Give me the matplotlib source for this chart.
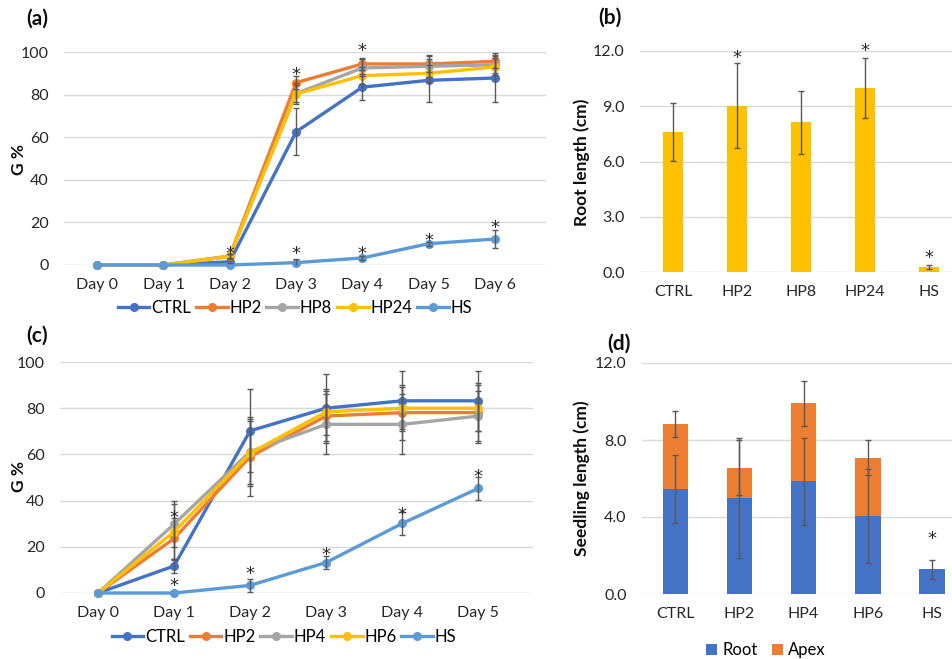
import numpy as np
import matplotlib
matplotlib.use("Agg")
import matplotlib.pyplot as plt

plt.rcParams['font.family'] = ['Lato', 'DejaVu Sans']

W, H = 953, 659

# colours (Office palette)
BLUE = "#4472C4"
ORANGE = "#ED7D31"
GRAY = "#A5A5A5"
YELLOW = "#FFC000"
LBLUE = "#5B9BD5"
ERR = "#595959"
GRID = "#D9D9D9"

# ---- (a) germination, 7 days ----
days_a = ["Day 0", "Day 1", "Day 2", "Day 3", "Day 4", "Day 5", "Day 6"]
names_a = ["CTRL", "HP2", "HP8", "HP24", "HS"]
ctrl_a = [0, 0, 1.5, 62.5, 83.5, 86.7, 87.8]
hp2_a = [0, 0, 4.2, 85.6, 94.4, 94.4, 95.6]
hp8_a = [0, 0, 4.0, 80.5, 92.5, 93.3, 94.0]
hp24_a = [0, 0, 4.0, 80.3, 88.9, 90.0, 93.0]
hs_a = [0, 0, 0, 1.1, 3.3, 10.0, 12.2]
ctrl_a_err = [0, 0, 0.5, 11, 6, 10, 11.5]
hp2_a_err = [0, 0, 1, 3, 3, 4, 3]
hp8_a_err = [0, 0, 1, 5, 4, 5, 4]
hp24_a_err = [0, 0, 1, 4, 4, 4, 4]
hs_a_err = [0, 0, 0, 1.5, 1, 1, 4]
stars_a_x = [2, 3, 3, 4, 4, 5, 6]
stars_a_y = [8, 92, 8, 103, 8, 14, 20]

# ---- (b) root length ----
groups_b = ["CTRL", "HP2", "HP8", "HP24", "HS"]
root_b = [7.6, 9.03, 8.12, 9.97, 0.27]
root_b_err = [1.55, 2.3, 1.7, 1.63, 0.13]
stars_b_x = [1, 3, 4]
stars_b_y = [11.9, 12.3, 1.05]

# ---- (c) germination, 6 days ----
days_c = ["Day 0", "Day 1", "Day 2", "Day 3", "Day 4", "Day 5"]
names_c = ["CTRL", "HP2", "HP4", "HP6", "HS"]
ctrl_c = [0, 11.7, 70.2, 80.0, 83.2, 83.2]
hp2_c = [0, 23.6, 59.0, 76.6, 78.1, 78.1]
hp4_c = [0, 29.8, 61.2, 73.0, 73.0, 76.6]
hp6_c = [0, 26.5, 60.5, 78.4, 80.0, 80.0]
hs_c = [0, 0, 3.3, 13.2, 30.1, 45.3]
ctrl_c_err = [0, 3, 18, 15, 13, 13]
hp2_c_err = [0, 9, 17, 11, 12, 13]
hp4_c_err = [0, 10, 14, 13, 13, 11]
hp6_c_err = [0, 12, 14, 10, 9, 10]
hs_c_err = [0, 0, 2.8, 3, 5, 5]
stars_c_x = [1, 1, 2, 3, 4, 5]
stars_c_y = [35, 5.5, 10.5, 19, 36, 52.5]

# ---- (d) seedling length ----
groups_d = ["CTRL", "HP2", "HP4", "HP6", "HS"]
root_d = [5.44, 4.98, 5.86, 4.06, 1.28]
apex_d = [3.39, 1.59, 4.04, 3.03, 0.0]
root_d_err = [1.76, 3.1, 2.25, 2.43, 0.48]
apex_d_err = [0.67, 1.45, 1.15, 0.93, 0.0]
stars_d_x = [4]
stars_d_y = [3.15]


def rect(l, t, r, b):
    return [l / W, 1 - b / H, (r - l) / W, (b - t) / H]


def style(ax, yticks, fmt):
    for s in ax.spines.values():
        s.set_visible(False)
    ax.set_yticks(yticks)
    ax.set_yticklabels([fmt.format(v) for v in yticks])
    ax.yaxis.grid(True, color=GRID, lw=1)
    ax.set_axisbelow(True)
    ax.tick_params(length=0, labelsize=11.5, labelcolor="#262626")
    ax.tick_params(axis="y", pad=11)
    ax.tick_params(axis="x", pad=9)


def lines(ax, days, series, errs, colors, names):
    x = np.arange(len(days))
    handles = []
    for y, e, c, n in zip(series, errs, colors, names):
        h, = ax.plot(x, y, "-o", color=c, lw=2.4, ms=5.5, label=n,
                     zorder=2, clip_on=False)
        handles.append(h)
    for y, e in zip(series, errs):
        e = np.array(e, float)
        m = e > 0
        ax.errorbar(x[m], np.array(y)[m], yerr=e[m], fmt="none",
                    ecolor=ERR, elinewidth=1, capsize=2.5, capthick=1,
                    zorder=3)
    ax.set_xticks(x)
    ax.set_xticklabels(days)
    return handles


def stars(ax, xs, ys):
    # asterisk glyph centre sits ~0.59 em above the baseline
    for x, y in zip(xs, ys):
        ax.annotate("*", (x, y), xytext=(0, -0.59 * 13), textcoords="offset points",
                    ha="center", va="baseline", fontsize=13,
                    family="DejaVu Sans", color="#262626", annotation_clip=False)


fig = plt.figure(figsize=(W / 100, H / 100), dpi=100)

# (a)
ax_a = fig.add_axes(rect(64, 52, 546, 265))
ha = lines(ax_a, days_a,
           [ctrl_a, hp2_a, hp8_a, hp24_a, hs_a],
           [ctrl_a_err, hp2_a_err, hp8_a_err, hp24_a_err, hs_a_err],
           [BLUE, ORANGE, GRAY, YELLOW, LBLUE], names_a)
ax_a.set_xlim(-0.5, 6.77)
ax_a.set_ylim(0, 100)
style(ax_a, [0, 20, 40, 60, 80, 100], "{:.0f}")
stars(ax_a, stars_a_x, stars_a_y)
leg_kw = dict(loc="center", ncol=5, frameon=False, fontsize=12,
              handlelength=1.9, handletextpad=0.1, columnspacing=0.3,
              borderpad=0)
fig.legend(handles=ha, bbox_to_anchor=(295 / W, 1 - 308 / H), **leg_kw)

# (b)
ax_b = fig.add_axes(rect(640, 51, 953, 272))
xb = np.arange(len(groups_b))
ax_b.bar(xb, root_b, width=0.31, color=YELLOW, zorder=2)
ax_b.errorbar(xb, root_b, yerr=root_b_err, fmt="none", ecolor=ERR,
              elinewidth=1, capsize=2.5, capthick=1, zorder=3)
ax_b.set_xticks(xb)
ax_b.set_xticklabels(groups_b)
ax_b.set_xlim(-0.52, 4.38)
ax_b.set_ylim(0, 12)
style(ax_b, [0, 3, 6, 9, 12], "{:.1f}")
stars(ax_b, stars_b_x, stars_b_y)

# (c)
ax_c = fig.add_axes(rect(60, 362, 533, 593))
hc = lines(ax_c, days_c,
           [ctrl_c, hp2_c, hp4_c, hp6_c, hs_c],
           [ctrl_c_err, hp2_c_err, hp4_c_err, hp6_c_err, hs_c_err],
           [BLUE, ORANGE, GRAY, YELLOW, LBLUE], names_c)
ax_c.set_xlim(-0.5, 5.72)
ax_c.set_ylim(0, 100)
style(ax_c, [0, 20, 40, 60, 80, 100], "{:.0f}")
stars(ax_c, stars_c_x, stars_c_y)
fig.legend(handles=hc, bbox_to_anchor=(284 / W, 1 - 637 / H), **leg_kw)

# (d)
ax_d = fig.add_axes(rect(642, 363, 953, 594))
xd = np.arange(len(groups_d))
tot_d = np.array(root_d) + np.array(apex_d)
br = ax_d.bar(xd, root_d, width=0.4, color=BLUE, zorder=2, label="Root")
bp = ax_d.bar(xd, apex_d, bottom=root_d, width=0.4, color=ORANGE, zorder=2,
              label="Apex")
ax_d.errorbar(xd, root_d, yerr=root_d_err, fmt="none", ecolor=ERR,
              elinewidth=1, capsize=2.5, capthick=1, zorder=3)
m = np.array(apex_d_err) > 0
ax_d.errorbar(xd[m], tot_d[m], yerr=np.array(apex_d_err)[m], fmt="none",
              ecolor=ERR, elinewidth=1, capsize=2.5, capthick=1, zorder=3)
ax_d.set_xticks(xd)
ax_d.set_xticklabels(groups_d)
ax_d.set_xlim(-0.52, 4.33)
ax_d.set_ylim(0, 12)
style(ax_d, [0, 4, 8, 12], "{:.1f}")
stars(ax_d, stars_d_x, stars_d_y)
fig.legend(handles=[br, bp], loc="center", bbox_to_anchor=(766 / W, 1 - 650 / H),
           ncol=2, frameon=False, fontsize=12, handlelength=0.65,
           handleheight=0.65, handletextpad=0.3, columnspacing=0.9, borderpad=0)

# axis titles and panel letters
for x, y, s in [(19, 160, "G %"), (582, 162, "Root length (cm)"),
                (19, 477, "G %"), (582, 478, "Seedling length (cm)")]:
    fig.text(x / W, 1 - y / H, s, rotation=90, ha="center", va="center",
             fontsize=12.5, fontweight="bold", color="#0D0D0D")
for x, y, s in [(37, 19, "(a)"), (610, 18, "(b)"), (37, 336, "(c)"),
                (619, 344, "(d)")]:
    fig.text(x / W, 1 - y / H, s, ha="center", va="center",
             fontsize=15, fontweight="bold", color="#0D0D0D")

fig.savefig("out.png", dpi=100)
